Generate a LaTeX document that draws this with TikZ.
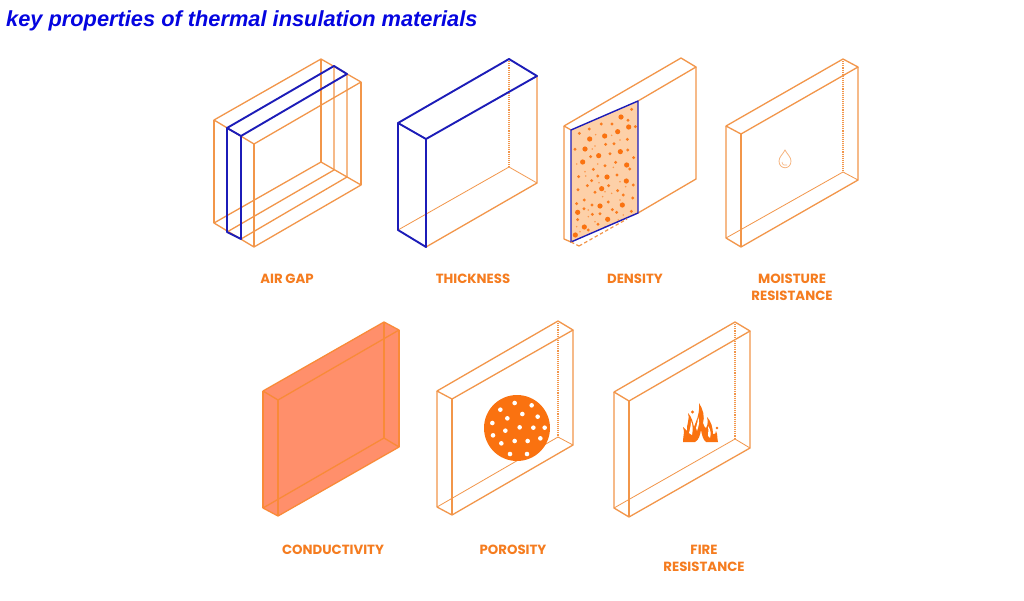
\documentclass[tikz,border=0pt]{standalone}
\usepackage{fontspec}
\setmainfont{Liberation Sans}
\newfontfamily\lblfont{Poppins}
\usetikzlibrary{positioning}

\definecolor{wireorange}{HTML}{F2964A}
\definecolor{lblorange}{HTML}{F57C1F}
\definecolor{dotorange}{HTML}{FA7210}
\definecolor{panelorange}{HTML}{FDD0A8}
\definecolor{slaborange}{HTML}{FF8F6B}
\definecolor{edgeorange}{HTML}{F98A38}
\definecolor{slabblue}{HTML}{1C1CB8}
\definecolor{titleblue}{HTML}{0505E0}

% corners of a slab: top left, apex, right, front, then the same along the bottom
\newcommand{\slab}[9]{
    \coordinate (#1lt) at (#2);
    \coordinate (#1at) at (#3);
    \coordinate (#1rt) at (#4);
    \coordinate (#1ft) at (#5);
    \coordinate (#1lb) at (#6);
    \coordinate (#1ab) at (#7);
    \coordinate (#1rb) at (#8);
    \coordinate (#1fb) at (#9);
}

\begin{document}
\begin{tikzpicture}[x=1pt, y=-1pt]
    \tikzstyle{wire} = [draw=wireorange, line width=1.3pt, line join=round];
    \tikzstyle{thinwire} = [draw=wireorange, line width=0.8pt];
    \tikzstyle{backwire} = [draw=wireorange, line width=1.1pt, densely dotted];
    \tikzstyle{bluewire} = [draw=slabblue, line width=1.9pt, line join=round];
    \tikzstyle{lbl} = [text=lblorange, font=\lblfont\bfseries\fontsize{13.3}{17}\selectfont, align=center, inner sep=0pt];

    \path[use as bounding box, fill=white] (0,0) rectangle (1024,600);

    \node[text=titleblue, font=\bfseries\itshape\fontsize{21.8}{24}\selectfont, anchor=west, inner sep=0pt] (title) at (6,21) {key properties of thermal insulation materials};

    % air gap
    \slab{g}{214,120}{321,59}{361,82}{254,144}{214,223}{321,162}{361,185}{254,247}
    \slab{s}{227,128}{334,66}{347,74}{241,136}{227,232}{334,170}{347,177}{241,239}
    \draw[wire] (glt) -- (gat) -- (grt) -- (gft) -- cycle;
    \draw[wire] (glb) -- (gab) -- (grb) -- (gfb) -- cycle;
    \draw[wire] (glt) -- (glb) (gat) -- (gab) (grt) -- (grb) (gft) -- (gfb);
    \draw[wire] (sat) -- (sab) -- (slb) (srt) -- (srb) -- (sfb);
    \draw[bluewire] (slt) -- (sat) -- (srt) -- (sft) -- cycle;
    \draw[bluewire] (slt) -- (slb) -- (sfb) -- (sft);

    % thickness
    \slab{t}{398,123}{509,59}{537,76}{426,139}{398,230}{509,167}{537,183}{426,247}
    \draw[backwire] (tat) -- (tab);
    \draw[thinwire] (tlb) -- (tab) -- (trb);
    \draw[wire] (trt) -- (trb) -- (tfb);
    \draw[bluewire] (tlt) -- (tat) -- (trt) -- (tft) -- cycle;
    \draw[bluewire] (tlt) -- (tlb) -- (tfb) -- (tft);

    % density
    \slab{d}{564,126}{681,58}{696,67}{571,130}{564,239}{681,171}{696,179}{571,242}
    \coordinate (pt) at (638,101);
    \coordinate (pb) at (638,213);
    \draw[wire] (pt) -- (drt) -- (dat) -- (dlt) -- (dft);
    \draw[wire] (dlt) -- (dlb) -- (dfb);
    \draw[wire] (drt) -- (drb) -- (pb);
    \fill[panelorange] (dft) -- (pt) -- (pb) -- (dfb) -- cycle;
    \foreach \x/\y in {198/201,149/258,90/297,196/305,131/317,83/336,215/345,156/381,214/393,140/416,135/468,202/465,68/487,88/531,158/508,61/555,221/231,188/245,104/267}
        \fill[dotorange] ({555+\x/3},{50+\y/3}) circle (2.6);
    \foreach \x/\y in {230/178,219/211,139/222,171/222,103/237,73/250,241/230,217/268,177/281,152/283,60/298,218/300,107/320,165/311,236/323,182/337,150/347,115/358,224/357,71/380,128/378,186/375,110/392,97/407,235/405,69/419,120/427,161/407,188/422,205/435,233/444,88/450,160/456,65/461,111/465,185/487,229/484,112/493,135/491,68/509,100/540,129/523,172/479,87/476}
        \fill[dotorange!90!panelorange] ({555+\x/3},{50+\y/3}) circle (1.6);
    \foreach \x/\y in {122/254,170/256,195/270,120/288,112/297,65/342,128/342,175/352,90/365,92/378,132/398,195/395,212/410,150/425,143/440,170/430,195/450,100/480,100/500,75/545,190/510,205/495,150/530,120/515,65/530}
        \fill[dotorange!60!panelorange] ({555+\x/3},{50+\y/3}) circle (0.9);
    \draw[draw=slabblue, line width=1.4pt, line join=round] (dft) -- (pt) -- (pb) -- (dfb) -- cycle;
    \coordinate (ds) at (579,246);
    \coordinate (de) at (627,219);
    \draw[wireorange, line width=1.2pt, dash pattern=on 3.5pt off 2.5pt] (ds) -- (de);
    \draw[wireorange, line width=1.2pt, dash pattern=on 3.5pt off 2.5pt] (dfb) -- (ds);

    % moisture resistance
    \slab{m}{726,126}{843,59}{858,67}{741,134}{726,238}{843,172}{858,180}{741,247}
    \draw[wire] (mlt) -- (mat) -- (mrt) -- (mft) -- cycle;
    \draw[wire] (mlt) -- (mlb) -- (mfb) -- (mrb) -- (mrt);
    \draw[wire] (mft) -- (mfb);
    \draw[backwire] (mat) -- (mab);
    \draw[thinwire] (mlb) -- (mab) -- (mrb);
    \draw[draw=wireorange!70!white, line width=0.8pt] (785,150) .. controls (783,154) and (779,157) .. (779,161) .. controls (779,170) and (791,170) .. (791,161) .. controls (791,157) and (787,154) .. (785,150) -- cycle;
    \draw[draw=wireorange!70!white, line width=0.6pt] (782,162) .. controls (782,165) and (785,166) .. (787,165);

    % conductivity
    \slab{c}{263,391}{384,322}{399,330}{278,400}{263,508}{384,438}{399,447}{278,516}
    \fill[slaborange] (clt) -- (cat) -- (crt) -- (crb) -- (cfb) -- (clb) -- cycle;
    \draw[wire, draw=edgeorange] (clt) -- (cat) -- (crt) -- (cft) -- cycle;
    \draw[wire, draw=edgeorange] (clb) -- (cab) -- (crb) -- (cfb) -- cycle;
    \draw[wire, draw=edgeorange] (clt) -- (clb) (cat) -- (cab) (crt) -- (crb) (cft) -- (cfb);

    % porosity
    \slab{p}{437,391}{558,321}{573,330}{452,399}{437,507}{558,437}{573,445}{452,515}
    \draw[wire] (plt) -- (pat) -- (prt) -- (pft) -- cycle;
    \draw[wire] (plt) -- (plb) -- (pfb) -- (prb) -- (prt);
    \draw[wire] (pft) -- (pfb);
    \draw[backwire] (pat) -- (pab);
    \draw[thinwire] (plb) -- (pab) -- (prb);
    \fill[dotorange] (517,428) circle (33);
    \foreach \x/\y in {254/264,305/271,211/284,277/297,323/305,232/310,187/324,269/337,310/338,344/338,226/347,189/361,331/370,254/378,293/378,214/385,240/417,291/417}
        \fill[white] ({430+\x/3},{315+\y/3}) circle (2.3);

    % fire resistance
    \slab{f}{614,392}{735,322}{750,331}{629,401}{614,508}{735,439}{750,448}{629,517}
    \draw[wire] (flt) -- (fat) -- (frt) -- (fft) -- cycle;
    \draw[wire] (flt) -- (flb) -- (ffb) -- (frb) -- (frt);
    \draw[wire] (fft) -- (ffb);
    \draw[backwire] (fat) -- (fab);
    \draw[thinwire] (flb) -- (fab) -- (frb);
    \fill[dotorange] (683,442) .. controls (683,436) and (685,432) .. (683,427)
        .. controls (685,429) and (686,430) .. (687,431)
        .. controls (686,425) and (690,421) .. (688,413)
        .. controls (692,417) and (693,423) .. (694,427)
        .. controls (696,421) and (700,414) .. (699,403)
        .. controls (703,409) and (705,417) .. (703,423)
        .. controls (704,426) and (705,428) .. (706,428)
        .. controls (708,425) and (708,421) .. (707,417)
        .. controls (711,421) and (713,428) .. (713,434)
        .. controls (715,435) and (716,433) .. (716,431)
        .. controls (718,435) and (717,439) .. (718,442)
        -- (706,442) .. controls (703,440) and (702,435) .. (701,430)
        .. controls (700,435) and (699,440) .. (695,442) -- cycle;
    \fill[white] (689,433) .. controls (690,429) and (691,425) .. (691,421) .. controls (693,425) and (693,430) .. (692,435) -- cycle;
    \fill[white] (696,428) .. controls (697,424) and (698,421) .. (698,417) .. controls (700,421) and (699,425) .. (697,431) -- cycle;
    \fill[white] (708,436) .. controls (708,432) and (709,429) .. (708,426) .. controls (711,430) and (711,434) .. (710,438) -- cycle;
    \fill[dotorange] (692.5,412) circle (1.6);
    \fill[dotorange] (717,428) circle (1.4);

    % labels
    \node[lbl] (airgap) at (287,279) {AIR GAP};
    \node[lbl] (thickness) at (473,279) {THICKNESS};
    \node[lbl] (density) at (635,279) {DENSITY};
    \node[lbl] (moisture) at (792,287.5) {MOISTURE\\RESISTANCE};
    \node[lbl] (conductivity) at (333,550) {CONDUCTIVITY};
    \node[lbl] (porosity) at (513,550) {POROSITY};
    \node[lbl] (fire) at (704,558.5) {FIRE\\RESISTANCE};
\end{tikzpicture}
\end{document}
